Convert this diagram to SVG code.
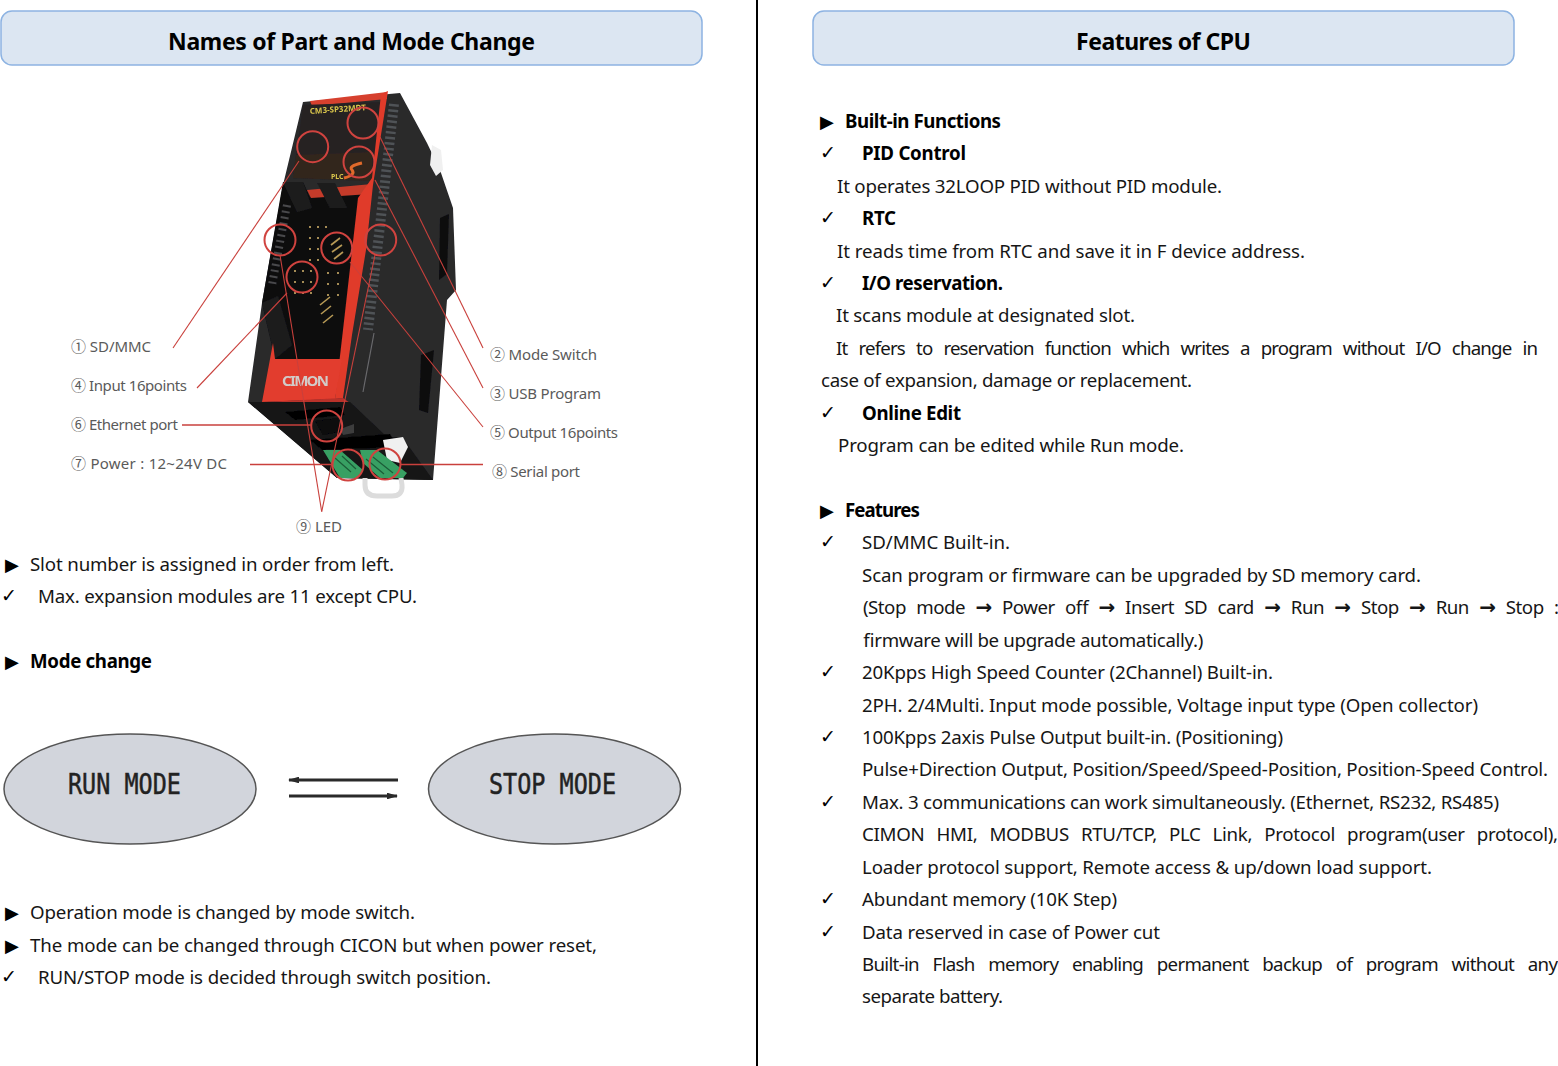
<svg xmlns="http://www.w3.org/2000/svg" width="1558" height="1066" viewBox="0 0 1558 1066">
<style>
text{font-family:"Noto Sans","Noto Sans CJK KR",sans-serif;fill:#161616}
.t{font-size:18.700px}
.b{font-size:18.700px;font-weight:700;fill:#000}
.h{font-size:23px;font-weight:700;fill:#000;text-anchor:middle}
.m{font-family:"DejaVu Sans",sans-serif;font-size:18px;fill:#000}
.c{font-family:"DejaVu Sans",sans-serif;font-size:19px;fill:#000}
.l{font-size:15px;fill:#5a5a5a}
.e{font-family:"DejaVu Sans Mono","Liberation Mono",monospace;font-size:29px;fill:#222;stroke:#222;stroke-width:.5}
.a{font-family:"DejaVu Sans",sans-serif;font-weight:700;font-size:20px}
.hd{fill:#dce6f2;stroke:#8db3e2;stroke-width:1.5}
.el{fill:#d2d5dc;stroke:#555;stroke-width:1.5}
.r{fill:none;stroke:#d0433f;stroke-width:2}
.rl{stroke:#c9403c;stroke-width:1.1;fill:none}
.rt{stroke:#c9403c;stroke-width:1.6;fill:none}
.k{stroke:#2a2a2a;stroke-width:2.800;fill:none}
.pin{stroke:#b89a55;stroke-width:1.600;fill:none}
.dot{stroke:#a58c55;stroke-width:2;stroke-dasharray:2 9;fill:none}
</style>
<defs>
<marker id="ah" viewBox="0 0 10 6" refX="9" refY="3" markerWidth="4" markerHeight="2.400" orient="auto-start-reverse" markerUnits="strokeWidth"><path d="M0 0L10 3L0 6Z" fill="#2a2a2a"/></marker>
<filter id="soft" x="-5%" y="-5%" width="110%" height="110%"><feGaussianBlur stdDeviation="0.7"/></filter>
</defs>
<rect width="1558" height="1066" fill="#fff"/>
<line id="divider" x1="757" y1="0" x2="757" y2="1066" stroke="#000" stroke-width="2"/>

<g id="header-left"><rect class="hd" x="1" y="11" width="701" height="54" rx="11"/><text class="h" x="351.500" y="50" textLength="367">Names of Part and Mode Change</text></g>
<g id="header-right"><rect class="hd" x="813" y="11" width="701" height="54" rx="11"/><text class="h" x="1163.500" y="50" textLength="175">Features of CPU</text></g>

<g id="device" filter="url(#soft)">
<polygon fill="#29292b" points="303,102 400,93 427,143 440,170 453,208 456,290 447,300 440,390 433,480 337,478 248,402 262,303 283,185"/>
<polygon fill="#f0f0f0" points="432,145 441,150 443,170 436,176 430,165"/>
<polygon fill="#0e0e10" points="440,218 449,214 447,274 439,280"/>
<polygon fill="#0e0e10" points="421,355 434,350 428,413 419,410"/>
<line x1="374" y1="333" x2="363" y2="392" stroke="#6a6a6c" stroke-width="1.200"/>
<line x1="394" y1="104" x2="368" y2="330" stroke="#4f5256" stroke-width="10" stroke-dasharray="2.500 3"/>
<polygon fill="#d6402f" points="310,101 387,92 387,99 312,106"/>
<polygon fill="#262224" points="303,105 383,102 373,181 293,178"/>
<polygon fill="#33261f" points="296,155 372,152 373,181 293,178"/>
<polygon fill="#0f0f11" points="283,182 303,182 310,197 372,185 363,197 348,315 342,359 275,359 262,303"/>
<polygon fill="#c43b2a" points="307,190 372,184 370,194 311,198"/>
<polygon fill="#1d1d1f" points="283,182 303,182 312,208 297,212"/>
<polygon fill="#1d1d1f" points="317,183 335,183 347,208 330,208"/>
<polygon fill="#1b1b1d" points="262,303 278,296 292,345 275,359"/>
<line x1="287" y1="205" x2="272" y2="285" stroke="#4a4a4c" stroke-width="8" stroke-dasharray="2 4"/>
<polygon fill="#e03a2c" points="381,94 388,91 373,185 366,250 352,335 343,398 335,399 343,330 358,198 372,178"/>
<polygon fill="#e23c2e" points="273,343 275,359 342,359 335,399 262,402"/>
<polygon fill="#b9302a" points="262,402 343,398 350,403 345,412 272,412"/>
<g class="pin">
<path d="M331 245l9 -7M332 252l10 -7M334 259l9 -7"/>
<path d="M320 305l10 -8M321 314l10 -8M323 323l10 -8"/>
</g>
<path class="dot" d="M310 226v40M318 226v40M326 226v10M295 270v25M303 270v25M311 270v25M328 272v30M338 272v30"/>
<polygon fill="#141416" points="248,402 262,402 350,402 387,437 402,437 433,480 337,478"/>
<polygon fill="#040404" points="285,412 340,407 345,415 295,420"/>
<polygon fill="#070708" points="315,421 338,418 340,432 323,435"/>
<polygon fill="#3c3c3d" points="340,429 354,424 354,433 343,435"/>
<polygon fill="#050505" points="310,440 390,434 398,447 322,450"/>
<path d="M365 478v7q0 11 12 11h15q11 0 10 -11l-1 -7" fill="none" stroke="#dcdcdc" stroke-width="5"/>
<polygon fill="#f0f0f0" points="383,440 403,437 408,447 400,463 387,460"/>
<polygon fill="#38a063" points="323,450 340,450 363,470 357,478 340,478"/>
<polygon fill="#38a063" points="360,450 377,450 407,473 403,478 380,478 363,463"/>
<path d="M335 458l16 14M342 456l14 13M373 457l20 16M366 459l18 15" stroke="#1c5c37" stroke-width="1.200" fill="none"/>
<text x="310" y="114" font-size="8" font-weight="700" style="fill:#d8c44a" transform="rotate(-4 310 114)">CM3-SP32MDT</text>
<text x="331" y="179" font-size="7" font-weight="700" style="fill:#d8c44a">PLC</text>
<path d="M344 178q12 -3 8 -8q-4 -4 10 -7" fill="none" stroke="#e06a2a" stroke-width="3"/>
<text x="282" y="386" font-size="15" font-weight="700" style="fill:#d2cbc8" textLength="47">CIMON</text>
</g>

<g id="connectors">
<g id="callouts">
<circle class="r" cx="312.700" cy="146.700" r="15.500"/>
<circle class="r" cx="363" cy="123" r="15.500"/>
<circle class="r" cx="359" cy="162" r="15.500"/>
<circle class="r" cx="280" cy="240" r="15.500"/>
<circle class="r" cx="336.700" cy="248" r="15.500"/>
<circle class="r" cx="380.700" cy="240" r="15.500"/>
<circle class="r" cx="302" cy="277" r="15.500"/>
<circle class="r" cx="326.700" cy="426" r="15.500"/>
<circle class="r" cx="348" cy="465" r="15.500"/>
<circle class="r" cx="385" cy="464" r="15.500"/>
</g>
<line class="rl" x1="299" y1="161" x2="173" y2="348"/>
<line class="rl" x1="287" y1="293" x2="197" y2="388"/>
<line class="rt" x1="182" y1="425" x2="311" y2="425"/>
<line class="rt" x1="250" y1="464.500" x2="333" y2="464.500"/>
<line class="rt" x1="400" y1="464.500" x2="483" y2="464.500"/>
<line class="rl" x1="380" y1="137" x2="483" y2="348"/>
<line class="rl" x1="375" y1="180" x2="483" y2="388"/>
<line class="rl" x1="350" y1="262" x2="483" y2="427"/>
<line class="rl" x1="280" y1="255" x2="321.700" y2="511.700"/>
<line class="rl" x1="375" y1="255" x2="321.700" y2="511.700"/>
<line id="arrow-to-run" class="k" x1="398" y1="780" x2="289" y2="780" marker-end="url(#ah)"/>
<line id="arrow-to-stop" class="k" x1="289" y1="796" x2="397" y2="796" marker-end="url(#ah)"/>
</g>

<g id="part-labels">
<text class="l" x="71" y="352" textLength="80">① SD/MMC</text>
<text class="l" x="71" y="391" textLength="116">④ Input 16points</text>
<text class="l" x="71" y="430" textLength="107">⑥ Ethernet port</text>
<text class="l" x="71" y="469" textLength="156">⑦ Power : 12~24V DC</text>
<text class="l" x="490" y="360" textLength="107">② Mode Switch</text>
<text class="l" x="490" y="399" textLength="111">③ USB Program</text>
<text class="l" x="490" y="438" textLength="128">⑤ Output 16points</text>
<text class="l" x="492" y="477" textLength="88">⑧ Serial port</text>
<text class="l" x="296" y="532" textLength="46">⑨ LED</text>
</g>

<g id="run-mode"><ellipse class="el" cx="130" cy="789" rx="126" ry="55"/><text class="e" x="68" y="794" textLength="113" lengthAdjust="spacingAndGlyphs">RUN MODE</text></g>
<g id="stop-mode"><ellipse class="el" cx="554.500" cy="789" rx="126" ry="55"/><text class="e" x="489" y="794" textLength="127" lengthAdjust="spacingAndGlyphs">STOP MODE</text></g>

<g id="left-text">
<text class="m" x="5" y="571">▶</text><text class="t" x="30" y="571" textLength="364">Slot number is assigned in order from left.</text>
<text class="c" x="1" y="602">✓</text><text class="t" x="38" y="603" textLength="379">Max. expansion modules are 11 except CPU.</text>
<text class="m" x="5" y="668">▶</text><text class="b" x="30" y="668" textLength="122">Mode change</text>
<text class="m" x="5" y="919">▶</text><text class="t" x="30" y="919" textLength="385">Operation mode is changed by mode switch.</text>
<text class="m" x="5" y="952">▶</text><text class="t" x="30" y="952" textLength="567">The mode can be changed through CICON but when power reset,</text>
<text class="c" x="1" y="983">✓</text><text class="t" x="38" y="984" textLength="453">RUN/STOP mode is decided through switch position.</text>
</g>

<g id="right-text">
<text class="m" x="820" y="128">▶</text><text class="b" x="845" y="128" textLength="156">Built-in Functions</text>
<text class="c" x="820" y="159">✓</text><text class="b" x="862" y="160" textLength="104">PID Control</text>
<text class="t" x="837" y="193" textLength="385">It operates 32LOOP PID without PID module.</text>
<text class="c" x="820" y="224">✓</text><text class="b" x="862" y="225" textLength="34">RTC</text>
<text class="t" x="837" y="258" textLength="468">It reads time from RTC and save it in F device address.</text>
<text class="c" x="820" y="289">✓</text><text class="b" x="862" y="290" textLength="141">I/O reservation.</text>
<text class="t" x="836" y="322" textLength="299">It scans module at designated slot.</text>
<text class="t" x="836" y="355" word-spacing="7" textLength="702">It refers to reservation function which writes a program without I/O change in</text>
<text class="t" x="821" y="387" textLength="371">case of expansion, damage or replacement.</text>
<text class="c" x="820" y="419">✓</text><text class="b" x="862" y="420" textLength="99">Online Edit</text>
<text class="t" x="838" y="452" textLength="346">Program can be edited while Run mode.</text>
<text class="m" x="820" y="517">▶</text><text class="b" x="845" y="517" textLength="75">Features</text>
<text class="c" x="820" y="548">✓</text><text class="t" x="862" y="549" textLength="148">SD/MMC Built-in.</text>
<text class="t" x="862" y="582" textLength="559">Scan program or firmware can be upgraded by SD memory card.</text>
<text class="t" x="863" y="614" word-spacing="6" textLength="696">(Stop mode <tspan class="a">→</tspan> Power off <tspan class="a">→</tspan> Insert SD card <tspan class="a">→</tspan> Run <tspan class="a">→</tspan> Stop <tspan class="a">→</tspan> Run <tspan class="a">→</tspan> Stop :</text>
<text class="t" x="863" y="647" textLength="340">firmware will be upgrade automatically.)</text>
<text class="c" x="820" y="678">✓</text><text class="t" x="862" y="679" textLength="411">20Kpps High Speed Counter (2Channel) Built-in.</text>
<text class="t" x="862" y="712" textLength="616">2PH. 2/4Multi. Input mode possible, Voltage input type (Open collector)</text>
<text class="c" x="820" y="743">✓</text><text class="t" x="862" y="744" textLength="421">100Kpps 2axis Pulse Output built-in. (Positioning)</text>
<text class="t" x="862" y="776" textLength="686">Pulse+Direction Output, Position/Speed/Speed-Position, Position-Speed Control.</text>
<text class="c" x="820" y="808">✓</text><text class="t" x="862" y="809" textLength="637">Max. 3 communications can work simultaneously. (Ethernet, RS232, RS485)</text>
<text class="t" x="862" y="841" word-spacing="7.500" textLength="696">CIMON HMI, MODBUS RTU/TCP, PLC Link, Protocol program(user protocol),</text>
<text class="t" x="862" y="874" textLength="570">Loader protocol support, Remote access &amp; up/down load support.</text>
<text class="c" x="820" y="905">✓</text><text class="t" x="862" y="906" textLength="255">Abundant memory (10K Step)</text>
<text class="c" x="820" y="938">✓</text><text class="t" x="862" y="939" textLength="298">Data reserved in case of Power cut</text>
<text class="t" x="862" y="971" word-spacing="9.500" textLength="696">Built-in Flash memory enabling permanent backup of program without any</text>
<text class="t" x="862" y="1003" textLength="141">separate battery.</text>
</g>
</svg>
